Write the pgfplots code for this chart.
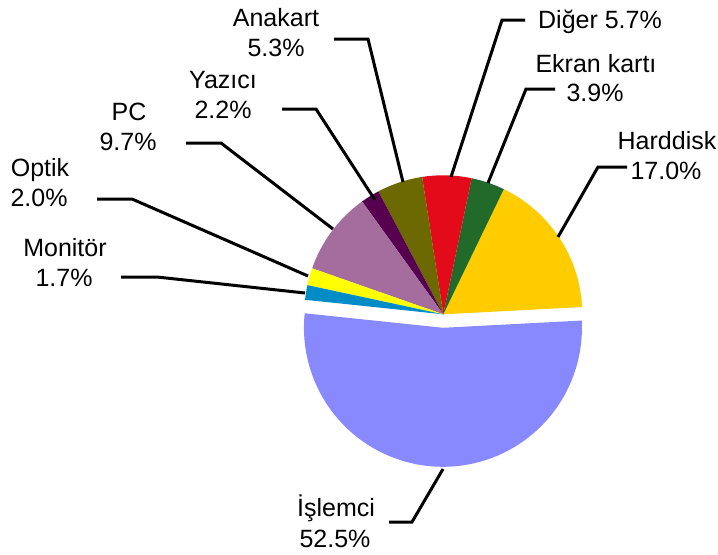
\documentclass[border=0pt]{standalone}
\usepackage{fontspec}
\setmainfont{Liberation Sans}
\usepackage{pgfplots}
\pgfplotsset{compat=1.18}
\definecolor{cIs}{HTML}{8888FF}
\definecolor{cHd}{HTML}{FFCC00}
\definecolor{cEk}{HTML}{216A29}
\definecolor{cDi}{HTML}{E30B1A}
\definecolor{cAn}{HTML}{6B6900}
\definecolor{cYa}{HTML}{580050}
\definecolor{cPC}{HTML}{A56C9E}
\definecolor{cOp}{HTML}{FFFF00}
\definecolor{cMo}{HTML}{008CC6}
\tikzset{lbl/.style={font=\fontsize{12.5}{14.5}\selectfont, inner sep=0pt, anchor=base}}
% values (percent)
\def\vHd{17.0}\def\vEk{3.9}\def\vDi{5.7}\def\vAn{5.3}\def\vYa{2.2}
\def\vPC{9.7}\def\vOp{2.0}\def\vMo{1.7}\def\vIs{52.5}
\def\cx{443.3}\def\cy{314.3}\def\rr{139}
\newcommand\slice[4]{%
  \pgfmathsetmacro\smid{(#1+#2)/2}%
  \pgfmathsetmacro\sox{\cx+#4*cos(\smid)}%
  \pgfmathsetmacro\soy{\cy-#4*sin(\smid)}%
  \edef\tmp{\noexpand\addplot[fill=#3, draw=none, domain=#1:#2, samples=90]
    ({\sox+\rr*cos(x)},{\soy-\rr*sin(x)}) -- (axis cs:\sox,\soy) -- cycle;}%
  \tmp}
\begin{document}
\begin{tikzpicture}
\fontsize{12.5}{14.5}\selectfont
\begin{axis}[name=ax, hide axis, scale only axis, width=359pt, height=277pt,
  xmin=0, xmax=718, ymin=0, ymax=554, y dir=reverse, clip=false]
\pgfmathsetmacro\aA{3}
\pgfmathsetmacro\aB{\aA+3.6*\vHd}
\pgfmathsetmacro\aC{\aB+3.6*\vEk}
\pgfmathsetmacro\aD{\aC+3.6*\vDi}
\pgfmathsetmacro\aE{\aD+3.6*\vAn}
\pgfmathsetmacro\aF{\aE+3.6*\vYa}
\pgfmathsetmacro\aG{\aF+3.6*\vPC}
\pgfmathsetmacro\aH{\aG+3.6*\vOp}
\pgfmathsetmacro\aI{\aH+3.6*\vMo}
\pgfmathsetmacro\aJ{\aI+3.6*\vIs}
\slice{\aA}{\aB}{cHd}{0}
\slice{\aB}{\aC}{cEk}{0}
\slice{\aC}{\aD}{cDi}{0}
\slice{\aD}{\aE}{cAn}{0}
\slice{\aE}{\aF}{cYa}{0}
\slice{\aF}{\aG}{cPC}{0}
\slice{\aG}{\aH}{cOp}{0}
\slice{\aH}{\aI}{cMo}{0}
\slice{\aI}{\aJ}{cIs}{13.5}
% leader lines
\addplot[black, line width=1.5pt] coordinates {(334,39) (368,39) (403,182)};
\addplot[black, line width=1.5pt] coordinates {(282,109) (316,109) (375,200)};
\addplot[black, line width=1.5pt] coordinates {(186,143) (221,143) (333,229)};
\addplot[black, line width=1.5pt] coordinates {(97,199) (132,199) (308,276)};
\addplot[black, line width=1.5pt] coordinates {(121,277) (157,277) (305,293)};
\addplot[black, line width=1.5pt] coordinates {(525,20) (502,20) (451,177)};
\addplot[black, line width=1.5pt] coordinates {(555,89) (526,89) (488,183)};
\addplot[black, line width=1.5pt] coordinates {(627,167) (598,167) (558,237)};
\addplot[black, line width=1.5pt] coordinates {(389,522) (412,522) (443,469)};
% labels
\node[lbl] at (axis cs:276,26) {Anakart};
\node[lbl] at (axis cs:276,56) {5.3\%};
\node[lbl] at (axis cs:223,88) {Yazıcı};
\node[lbl] at (axis cs:223,118) {2.2\%};
\node[lbl] at (axis cs:129,120) {PC};
\node[lbl] at (axis cs:128,150.5) {9.7\%};
\node[lbl] at (axis cs:40,176) {Optik};
\node[lbl] at (axis cs:39,206.5) {2.0\%};
\node[lbl] at (axis cs:65,256) {Monitör};
\node[lbl] at (axis cs:64,286) {1.7\%};
\node[lbl] at (axis cs:600,28) {Diğer 5.7\%};
\node[lbl] at (axis cs:596,72) {Ekran kartı};
\node[lbl] at (axis cs:595,101.5) {3.9\%};
\node[lbl] at (axis cs:667,149) {Harddisk};
\node[lbl] at (axis cs:666,179.5) {17.0\%};
\node[lbl] at (axis cs:336,516) {İşlemci};
\node[lbl] at (axis cs:335,547) {52.5\%};
\end{axis}
\pgfresetboundingbox
\path[use as bounding box] (ax.south west) rectangle (ax.north east);
\end{tikzpicture}
\end{document}
